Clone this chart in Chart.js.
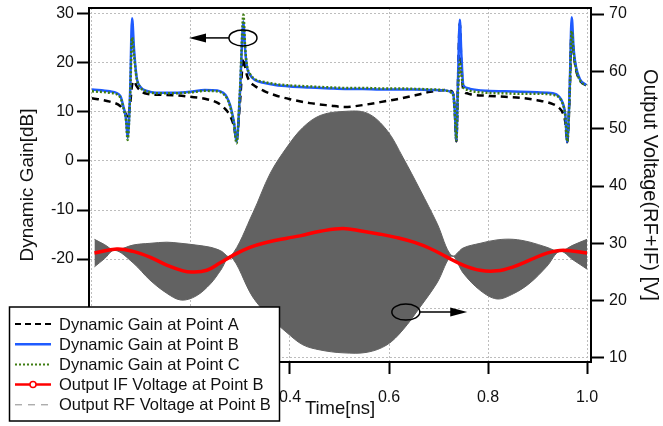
<!DOCTYPE html>
<html>
<head>
<meta charset="utf-8">
<script src="https://cdn.jsdelivr.net/npm/chart.js@4.4.1/dist/chart.umd.min.js"></script>
<style>
  html, body { margin: 0; padding: 0; background: #fff; }
</style>
</head>
<body>
<canvas id="graficoGanho" width="663" height="426"></canvas>
<script>
// Dados
const gainT = [0.000, 0.036, 0.057, 0.063, 0.069, 0.072, 0.077, 0.081, 0.085, 0.090,
  0.097, 0.111, 0.137, 0.168, 0.198, 0.228, 0.253, 0.265, 0.272, 0.279,
  0.283, 0.287, 0.292, 0.299, 0.306, 0.309, 0.313, 0.319, 0.329, 0.349,
  0.370, 0.400, 0.440, 0.481, 0.511, 0.547, 0.582, 0.616, 0.653, 0.683,
  0.713, 0.725, 0.730, 0.733, 0.736, 0.739, 0.743, 0.746, 0.750, 0.758,
  0.764, 0.798, 0.834, 0.865, 0.899, 0.931, 0.943, 0.951, 0.956, 0.960,
  0.965, 0.969, 0.973, 0.978, 0.986, 0.998];
const gainA = [12.8, 12.1, 11.2, 10.4, 9.5, 8.8, 11.5, 15.5, 16.3, 15.3,
  14.4, 13.7, 13.5, 13.4, 13.1, 12.7, 11.9, 11.0, 10.3, 9.2,
  8.3, 7.0, 4.4, 12.0, 21.0, 19.5, 17.5, 16.2, 15.3, 14.2,
  13.4, 12.6, 11.8, 11.3, 11.0, 11.4, 12.0, 12.6, 13.4, 14.1,
  14.5, 14.3, 13.5, 9.8, 4.0, 15.0, 28.0, 20.0, 14.5, 13.8,
  13.6, 13.3, 13.1, 12.9, 12.4, 11.6, 10.9, 9.8, 8.0, 3.8,
  14.0, 27.0, 22.0, 18.5, 16.4, 15.4];
const gainB = [14.6, 14.2, 13.3, 11.3, 8.4, 4.7, 13.9, 29.1, 22.7, 17.2,
  15.2, 14.3, 13.9, 13.9, 14.1, 14.5, 14.4, 13.9, 13.1, 11.4,
  9.8, 7.8, 3.9, 14.0, 28.5, 23.3, 19.2, 17.6, 16.5, 15.9,
  15.5, 15.2, 15.0, 14.8, 14.7, 14.7, 14.6, 14.6, 14.6, 14.5,
  14.4, 14.1, 13.5, 10.0, 4.2, 15.0, 28.8, 22.0, 15.5, 14.9,
  14.7, 14.3, 14.2, 14.1, 14.0, 13.8, 13.2, 11.8, 9.5, 3.9,
  15.0, 29.3, 22.7, 19.0, 16.6, 15.5];
const gainC = [14.2, 13.9, 13.0, 11.0, 8.2, 4.3, 13.0, 25.2, 21.5, 17.0,
  15.1, 14.2, 13.8, 13.8, 14.0, 14.3, 14.2, 13.7, 12.9, 11.2,
  9.5, 7.5, 3.6, 14.5, 29.8, 23.8, 19.5, 17.8, 16.7, 16.1,
  15.7, 15.4, 15.2, 15.0, 14.9, 14.9, 14.8, 14.8, 14.7, 14.6,
  14.4, 14.0, 13.3, 9.8, 4.3, 13.0, 20.5, 18.0, 15.0, 14.5,
  14.3, 13.9, 13.8, 13.7, 13.7, 13.5, 13.0, 11.6, 9.3, 4.0,
  14.0, 26.5, 22.0, 18.7, 16.4, 15.4];

// Tensão de saída IF (eixo direito)
const ifT = [0.005, 0.05, 0.083, 0.117, 0.151, 0.184, 0.202, 0.232, 0.259, 0.285,
  0.319, 0.354, 0.394, 0.42, 0.461, 0.507, 0.547, 0.582, 0.616, 0.65,
  0.683, 0.717, 0.75, 0.784, 0.818, 0.851, 0.885, 0.919, 0.952, 1.0];
const ifV = [28.3, 29.0, 28.6, 27.6, 26.2, 25.2, 25.0, 25.3, 26.6, 27.9,
  29.3, 30.2, 30.9, 31.3, 32.1, 32.6, 32.1, 31.6, 31.0, 30.2,
  29.1, 27.6, 26.2, 25.3, 25.2, 25.9, 27.1, 28.3, 28.8, 28.3];

// Envoltória da tensão RF (eixo direito)
const rfT = [0.005, 0.025, 0.046, 0.083, 0.117, 0.151, 0.18, 0.21, 0.24, 0.26,
  0.28, 0.325, 0.36, 0.394, 0.426, 0.461, 0.507, 0.556, 0.596, 0.628,
  0.663, 0.697, 0.727, 0.75, 0.784, 0.818, 0.851, 0.885, 0.919, 0.945,
  0.972, 1.0];
const rfUpper = [30.7, 29.8, 28.8, 29.7, 30.0, 30.2, 30.0, 29.7, 29.3, 28.7,
  27.7, 35.3, 42.2, 46.8, 50.2, 52.3, 53.0, 52.7, 49.7, 45.0,
  39.3, 33.5, 27.8, 29.2, 30.0, 30.6, 30.7, 30.2, 29.3, 28.6,
  29.7, 30.7];
const rfLower = [25.9, 27.3, 28.8, 26.6, 23.6, 21.3, 20.1, 20.8, 23.0, 25.3,
  27.7, 20.6, 17.1, 14.4, 12.3, 11.4, 10.9, 11.0, 12.3, 14.9,
  18.9, 23.1, 27.8, 24.8, 21.8, 20.3, 21.2, 23.1, 26.0, 28.6,
  27.1, 25.5];

// Marcas dos eixos
const xTicks = [0, 0.2, 0.4, 0.6, 0.8, 1.0];
const gainTicks = [-40, -30, -20, -10, 0, 10, 20, 30];
const voltTicks = [10, 20, 30, 40, 50, 60, 70];

const fonte = "'Liberation Sans', Arial, Helvetica, sans-serif";
const corB = '#1f5bff';
const corC = '#3f7d12';
const corRF = '#626262';

const pts = (xs, ys) => xs.map((x, i) => ({ x: x, y: ys[i] }));

const legendaItens = [
  { texto: 'Dynamic Gain at Point A', cor: '#000', largura: 2, traco: [6, 4] },
  { texto: 'Dynamic Gain at Point B', cor: corB, largura: 2.5, traco: [] },
  { texto: 'Dynamic Gain at Point C', cor: corC, largura: 2, traco: [2, 2] },
  { texto: 'Output IF Voltage at Point B', cor: '#ff0000', largura: 2.5, traco: [], marcador: true },
  { texto: 'Output RF Voltage at Point B', cor: '#8a8a8a', largura: 1, traco: [7, 6] }
];

// Zerar o espaço extra que o Chart.js reserva para os rótulos
const semPadding = s => {
  s.paddingTop = 0;
  s.paddingBottom = 0;
  s.paddingLeft = 0;
  s.paddingRight = 0;
};

// Moldura, setas e legenda desenhadas por cima
const molduraPlugin = {
  id: 'moldura',
  beforeDraw(chart) {
    const ctx = chart.ctx;
    ctx.save();
    ctx.fillStyle = '#fff';
    ctx.fillRect(0, 0, chart.width, chart.height);
    ctx.restore();
  },
  afterDraw(chart) {
    const ctx = chart.ctx;
    const area = chart.chartArea;
    const sx = chart.scales.x, sg = chart.scales.yGain, sv = chart.scales.yVolt;

    // borda superior
    ctx.save();
    ctx.strokeStyle = '#000';
    ctx.lineWidth = 2;
    ctx.beginPath();
    ctx.moveTo(area.left - 1, area.top);
    ctx.lineTo(area.right + 1, area.top);
    ctx.stroke();

    // setas com elipse
    const seta = (cx, cy, ponta) => {
      ctx.lineWidth = 1.5;
      ctx.strokeStyle = '#000';
      ctx.fillStyle = '#000';
      ctx.beginPath();
      ctx.ellipse(cx, cy, 14, 8, 0, 0, Math.PI * 2);
      ctx.stroke();
      const dir = ponta < cx ? -1 : 1;
      ctx.beginPath();
      ctx.moveTo(cx + dir * 14, cy);
      ctx.lineTo(ponta - dir * 14, cy);
      ctx.stroke();
      ctx.beginPath();
      ctx.moveTo(ponta, cy);
      ctx.lineTo(ponta - dir * 17, cy - 4.5);
      ctx.lineTo(ponta - dir * 17, cy + 4.5);
      ctx.closePath();
      ctx.fill();
    };
    seta(sx.getPixelForValue(0.305), sg.getPixelForValue(25.1), sx.getPixelForValue(0.196));
    seta(sx.getPixelForValue(0.634), sv.getPixelForValue(18.0), sx.getPixelForValue(0.758));

    // legenda
    const bx = 9.5, by = 307, bw = 270, bh = 114;
    ctx.fillStyle = '#fff';
    ctx.fillRect(bx, by, bw, bh);
    ctx.lineWidth = 1.5;
    ctx.strokeStyle = '#000';
    ctx.setLineDash([]);
    ctx.strokeRect(bx, by, bw, bh);
    ctx.font = '16.5px ' + fonte;
    ctx.textBaseline = 'middle';
    legendaItens.forEach((item, i) => {
      const y = by + 17 + i * 20.2;
      ctx.save();
      ctx.strokeStyle = item.cor;
      ctx.lineWidth = item.largura;
      ctx.setLineDash(item.traco);
      ctx.beginPath();
      ctx.moveTo(15, y);
      ctx.lineTo(51, y);
      ctx.stroke();
      if (item.marcador) {
        ctx.setLineDash([]);
        ctx.lineWidth = 1.5;
        ctx.fillStyle = '#fff';
        ctx.beginPath();
        ctx.arc(33, y, 3, 0, Math.PI * 2);
        ctx.fill();
        ctx.stroke();
      }
      ctx.restore();
      ctx.fillStyle = '#111';
      ctx.fillText(item.texto, 59, y + 1);
    });
    ctx.restore();
  }
};

const linha = {
  pointRadius: 0,
  pointHoverRadius: 0,
  fill: false
};

const config = {
  type: 'line',
  data: {
    datasets: [
      Object.assign({ label: 'Dynamic Gain at Point C', data: pts(gainT, gainC), yAxisID: 'yGain',
        borderColor: corC, borderWidth: 2.5, borderDash: [2, 2], cubicInterpolationMode: 'monotone' }, linha),
      Object.assign({ label: 'Dynamic Gain at Point B', data: pts(gainT, gainB), yAxisID: 'yGain',
        borderColor: corB, borderWidth: 2.5, cubicInterpolationMode: 'monotone' }, linha),
      Object.assign({ label: 'Dynamic Gain at Point A', data: pts(gainT, gainA), yAxisID: 'yGain',
        borderColor: '#000', borderWidth: 2.5, borderDash: [7, 5], cubicInterpolationMode: 'monotone' }, linha),
      Object.assign({ label: 'Output IF Voltage at Point B', data: pts(ifT, ifV), yAxisID: 'yVolt',
        borderColor: '#ff0000', borderWidth: 3.5, tension: 0.4 }, linha),
      Object.assign({}, linha, { label: 'Output RF Voltage at Point B', data: pts(rfT, rfUpper), yAxisID: 'yVolt',
        borderColor: corRF, backgroundColor: corRF, borderWidth: 1, tension: 0.35, fill: '+1' }),
      Object.assign({ label: 'RF lower', data: pts(rfT, rfLower), yAxisID: 'yVolt',
        borderColor: corRF, borderWidth: 1, tension: 0.35 }, linha)
    ]
  },
  options: {
    responsive: false,
    animation: false,
    devicePixelRatio: 1,
    layout: { padding: { top: 8, right: 0, bottom: 0, left: 0 } },
    plugins: {
      legend: { display: false },
      tooltip: { enabled: false }
    },
    scales: {
      x: {
        type: 'linear',
        min: -0.006,
        max: 1.008,
        afterBuildTicks: s => { s.ticks = xTicks.map(v => ({ value: v })); },
        afterFit: s => { s.height = 64; semPadding(s); },
        grid: { color: '#bdbdbd', lineWidth: 1, tickColor: '#000', tickWidth: 2, tickLength: 12 },
        border: { color: '#000', width: 2, dash: [2, 2] },
        ticks: { color: '#111', padding: 14, maxRotation: 0, font: { family: fonte, size: 16 },
          callback: v => v.toFixed(1) },
        title: { display: true, text: 'Time[ns]', color: '#111', font: { family: fonte, size: 18.5 },
          padding: { top: 0, bottom: 6 } }
      },
      yGain: {
        type: 'linear',
        position: 'left',
        min: -41.0,
        max: 31.2,
        afterBuildTicks: s => { s.ticks = gainTicks.map(v => ({ value: v })); },
        afterFit: s => { s.width = 89; semPadding(s); },
        grid: { color: '#bdbdbd', lineWidth: 1, tickColor: '#000', tickWidth: 2, tickLength: 12 },
        border: { color: '#000', width: 2, dash: [2, 2] },
        // -30 e -40 ficam escondidos atrás da legenda
        ticks: { color: '#111', padding: 3, font: { family: fonte, size: 16 },
          callback: v => (v < -20 ? '' : v) },
        title: { display: true, text: 'Dynamic Gain[dB]', color: '#111', font: { family: fonte, size: 19 },
          padding: { top: 16, bottom: 0 } }
      },
      yVolt: {
        type: 'linear',
        position: 'right',
        min: 9.3,
        max: 71.05,
        afterBuildTicks: s => { s.ticks = voltTicks.map(v => ({ value: v })); },
        afterFit: s => { s.width = 72; semPadding(s); },
        grid: { drawOnChartArea: false, tickColor: '#000', tickWidth: 2, tickLength: 13 },
        border: { color: '#000', width: 2 },
        ticks: { color: '#111', padding: 5, font: { family: fonte, size: 16 } },
        title: { display: true, text: 'Output Voltage(RF+IF) [V]', color: '#111', font: { family: fonte, size: 20 },
          padding: { top: 1, bottom: 0 } }
      }
    }
  },
  plugins: [molduraPlugin]
};

// Criar gráfico
const ctx = document.getElementById('graficoGanho').getContext('2d');
const grafico = new Chart(ctx, config);
</script>
</body>
</html>
